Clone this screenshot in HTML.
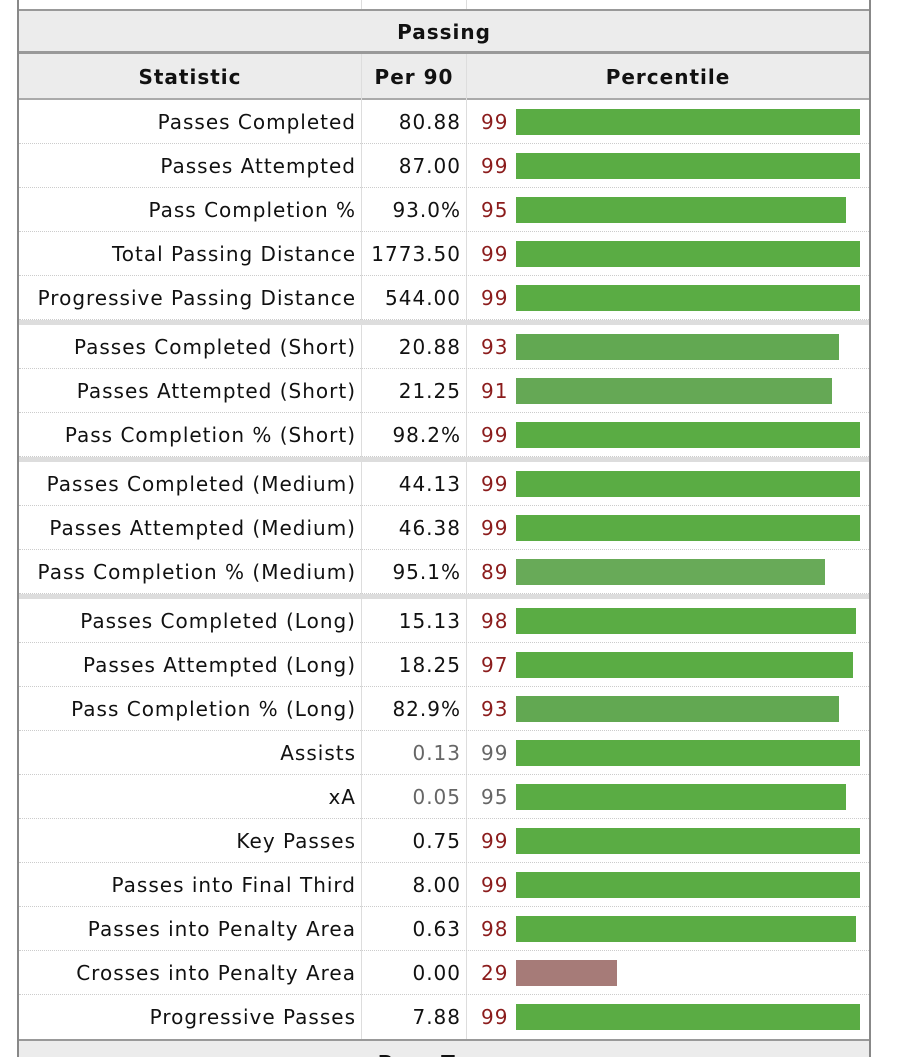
<!DOCTYPE html>
<html><head><meta charset="utf-8"><style>
*{margin:0;padding:0;box-sizing:border-box}
body{width:900px;height:1057px;background:#fff;position:relative;overflow:hidden;font-family:"DejaVu Sans","Liberation Sans",sans-serif;font-size:20px;color:#111;letter-spacing:1px}
.a{position:absolute}
.hdr{background:#ececec}
.vl{position:absolute;width:1px;background:#ddd}
.row{position:absolute;left:19px;width:850px;height:44px;border-bottom:1px dotted #ccc}
.s{position:absolute;right:513px;top:0;line-height:44px;white-space:nowrap}
.v{position:absolute;right:408px;top:0;line-height:44px}
.p{position:absolute;left:462px;top:0;line-height:44px;color:#8b1c1c}
.b{position:absolute;left:497px;top:9px;height:26px;background:#5aac44}
.sep{position:absolute;left:19px;width:850px;height:5px;background:#ddd}
.g{color:#666!important}
</style></head><body>
<div class="a" style="left:17px;top:0;width:2px;height:1057px;background:#888"></div>
<div class="a" style="left:869px;top:0;width:2px;height:1057px;background:#888"></div>
<div class="vl" style="left:361px;top:0;height:10px"></div>
<div class="vl" style="left:466px;top:0;height:10px"></div>
<div class="a hdr" style="left:19px;top:9px;width:850px;height:45px;border-top:2px solid #999;border-bottom:3px solid #999;text-align:center;font-weight:bold;line-height:42px">Passing</div>
<div class="a hdr" style="left:19px;top:54px;width:850px;height:46px;border-bottom:2px solid #aaa;font-weight:bold;line-height:46px">
<span class="a" style="left:0;width:342px;text-align:center">Statistic</span>
<span class="a" style="left:343px;width:104px;text-align:center">Per 90</span>
<span class="a" style="left:448px;width:402px;text-align:center">Percentile</span>
</div>
<div class="vl" style="left:361px;top:54px;height:985px"></div>
<div class="vl" style="left:466px;top:54px;height:985px"></div>

<div class="row" style="top:100px"><span class="s">Passes Completed</span><span class="v">80.88</span><span class="p">99</span><span class="b" style="width:344px"></span></div>
<div class="row" style="top:144px"><span class="s">Passes Attempted</span><span class="v">87.00</span><span class="p">99</span><span class="b" style="width:344px"></span></div>
<div class="row" style="top:188px"><span class="s">Pass Completion %</span><span class="v">93.0%</span><span class="p">95</span><span class="b" style="width:330px"></span></div>
<div class="row" style="top:232px"><span class="s">Total Passing Distance</span><span class="v">1773.50</span><span class="p">99</span><span class="b" style="width:344px"></span></div>
<div class="row" style="top:276px"><span class="s">Progressive Passing Distance</span><span class="v">544.00</span><span class="p">99</span><span class="b" style="width:344px"></span></div>
<div class="sep" style="top:320px"></div>
<div class="row" style="top:325px"><span class="s">Passes Completed (Short)</span><span class="v">20.88</span><span class="p">93</span><span class="b" style="width:323px;background:#62a852"></span></div>
<div class="row" style="top:369px"><span class="s">Passes Attempted (Short)</span><span class="v">21.25</span><span class="p">91</span><span class="b" style="width:316px;background:#65a855"></span></div>
<div class="row" style="top:413px"><span class="s">Pass Completion % (Short)</span><span class="v">98.2%</span><span class="p">99</span><span class="b" style="width:344px"></span></div>
<div class="sep" style="top:457px"></div>
<div class="row" style="top:462px"><span class="s">Passes Completed (Medium)</span><span class="v">44.13</span><span class="p">99</span><span class="b" style="width:344px"></span></div>
<div class="row" style="top:506px"><span class="s">Passes Attempted (Medium)</span><span class="v">46.38</span><span class="p">99</span><span class="b" style="width:344px"></span></div>
<div class="row" style="top:550px"><span class="s">Pass Completion % (Medium)</span><span class="v">95.1%</span><span class="p">89</span><span class="b" style="width:309px;background:#68aa58"></span></div>
<div class="sep" style="top:594px"></div>
<div class="row" style="top:599px"><span class="s">Passes Completed (Long)</span><span class="v">15.13</span><span class="p">98</span><span class="b" style="width:340px"></span></div>
<div class="row" style="top:643px"><span class="s">Passes Attempted (Long)</span><span class="v">18.25</span><span class="p">97</span><span class="b" style="width:337px"></span></div>
<div class="row" style="top:687px"><span class="s">Pass Completion % (Long)</span><span class="v">82.9%</span><span class="p">93</span><span class="b" style="width:323px;background:#62a852"></span></div>
<div class="row" style="top:731px"><span class="s">Assists</span><span class="v g">0.13</span><span class="p g">99</span><span class="b" style="width:344px"></span></div>
<div class="row" style="top:775px"><span class="s">xA</span><span class="v g">0.05</span><span class="p g">95</span><span class="b" style="width:330px"></span></div>
<div class="row" style="top:819px"><span class="s">Key Passes</span><span class="v">0.75</span><span class="p">99</span><span class="b" style="width:344px"></span></div>
<div class="row" style="top:863px"><span class="s">Passes into Final Third</span><span class="v">8.00</span><span class="p">99</span><span class="b" style="width:344px"></span></div>
<div class="row" style="top:907px"><span class="s">Passes into Penalty Area</span><span class="v">0.63</span><span class="p">98</span><span class="b" style="width:340px"></span></div>
<div class="row" style="top:951px"><span class="s">Crosses into Penalty Area</span><span class="v">0.00</span><span class="p">29</span><span class="b" style="width:101px;background:#a67b78"></span></div>
<div class="row" style="top:995px;border-bottom:none"><span class="s">Progressive Passes</span><span class="v">7.88</span><span class="p">99</span><span class="b" style="width:344px"></span></div>
<div class="a hdr" style="left:19px;top:1039px;width:850px;height:18px;border-top:2px solid #999;overflow:hidden"><div style="text-align:center;font-weight:bold;line-height:20px;margin-top:12px">Pass Types</div></div>
</body></html>
